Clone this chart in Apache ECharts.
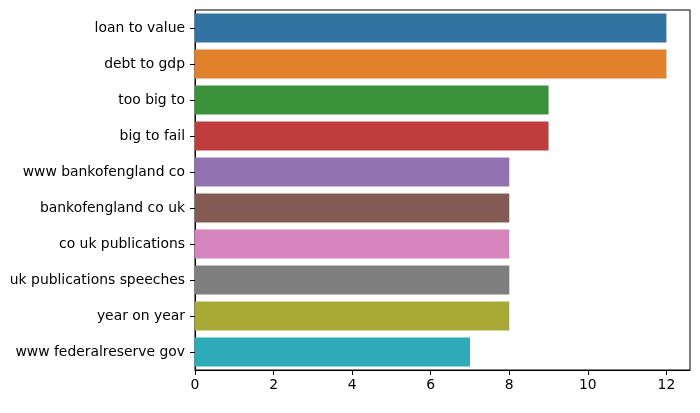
<!DOCTYPE html>
<html>
<head>
<meta charset="utf-8">
<script src="https://cdn.jsdelivr.net/npm/echarts@6/dist/echarts.min.js"></script>
<style>
  html, body { margin: 0; padding: 0; background: #fff; }
  #main { width: 700px; height: 413px; }
</style>
</head>
<body>
<div id="main"></div>
<script>
var phrases = ['loan to value', 'debt to gdp', 'too big to', 'big to fail',
  'www bankofengland co', 'bankofengland co uk', 'co uk publications',
  'uk publications speeches', 'year on year', 'www federalreserve gov'];
var counts = [12, 12, 9, 9, 8, 8, 8, 8, 8, 7];
var barColors = ['#3274a1', '#e1812c', '#3a923a', '#c03d3e', '#9372b2',
  '#845b53', '#d684bd', '#7f7f7f', '#a9aa35', '#2eabb8'];
var xTicks = [0, 2, 4, 6, 8, 10, 12];

var myChart = echarts.init(document.getElementById('main'));
// 标签字体
var tickFont = { fontFamily: 'DejaVu Sans', fontSize: 13.9, color: '#000' };

myChart.setOption({
  animation: false,
  backgroundColor: '#fff',
  grid: {
    left: 195, right: 10, top: 10, bottom: 43,
    show: true, borderColor: '#000', borderWidth: 1, backgroundColor: 'transparent'
  },
  xAxis: {
    type: 'value',
    min: 0,
    max: 12.6,
    splitLine: { show: false },
    axisLine: { show: true, lineStyle: { color: '#000' } },
    axisTick: { show: true, length: 5, customValues: xTicks, lineStyle: { color: '#000' } },
    axisLabel: Object.assign({ margin: 8, customValues: xTicks }, tickFont)
  },
  yAxis: {
    type: 'category',
    inverse: true,
    data: phrases,
    axisLine: { show: true, lineStyle: { color: '#000' } },
    axisTick: { show: true, length: 5, alignWithLabel: true, lineStyle: { color: '#000' } },
    axisLabel: Object.assign({ margin: 10 }, tickFont)
  },
  series: [{
    type: 'bar',
    barWidth: '80%',
    data: counts.map(function (v, i) {
      return { value: v, itemStyle: { color: barColors[i] } };
    })
  }]
});
</script>
</body>
</html>
